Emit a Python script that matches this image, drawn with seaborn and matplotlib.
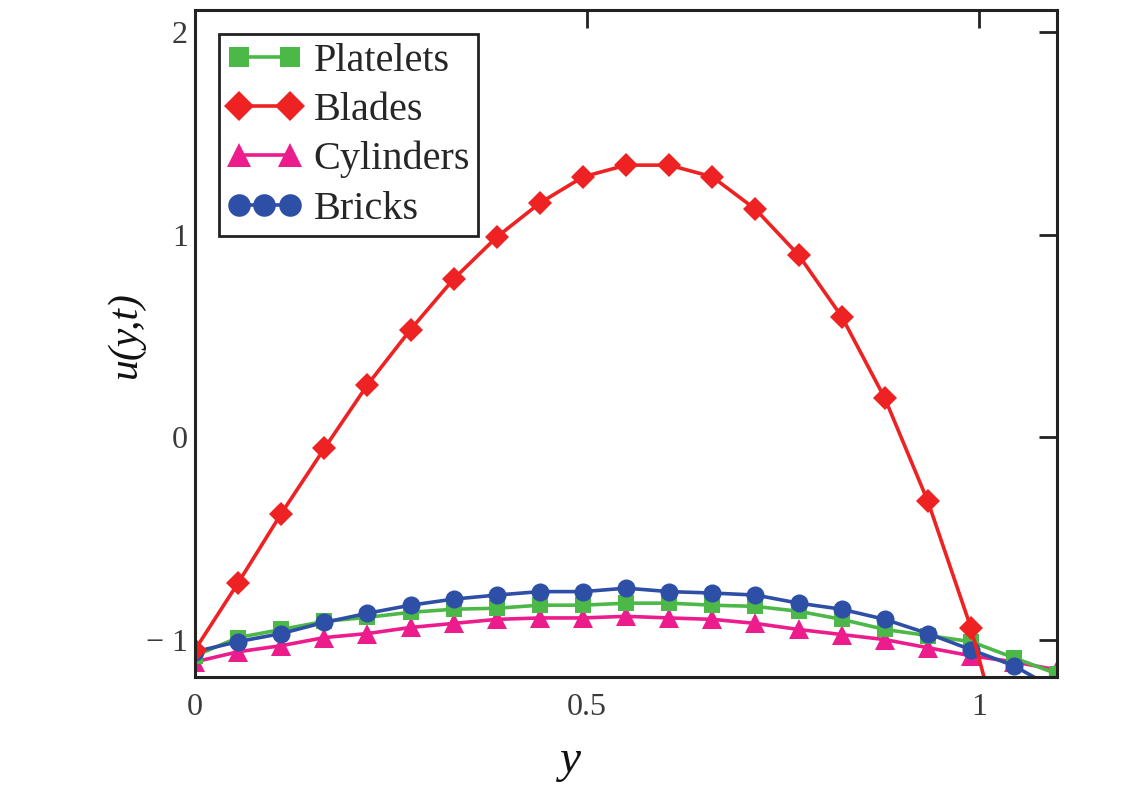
import numpy as np
import pandas as pd
import seaborn as sns
import matplotlib
matplotlib.use("Agg")
import matplotlib.pyplot as plt
from matplotlib.legend_handler import HandlerLine2D

# ---- data ----
y_pos = [round(0.055 * i, 3) for i in range(21)]

platelets = [-1.08, -0.99, -0.95, -0.91, -0.89, -0.865, -0.85, -0.845, -0.83, -0.83,
             -0.82, -0.82, -0.83, -0.836, -0.86, -0.90, -0.95, -0.98, -1.01, -1.09, -1.17]
blades = [-1.05, -0.72, -0.378, -0.056, 0.258, 0.531, 0.781, 0.988, 1.156, 1.285,
          1.343, 1.343, 1.285, 1.125, 0.899, 0.595, 0.192, -0.318, -0.943, -1.75, -2.7]
cylinders = [-1.11, -1.06, -1.03, -0.99, -0.97, -0.94, -0.92, -0.90, -0.893, -0.893,
             -0.885, -0.893, -0.90, -0.92, -0.95, -0.975, -1.00, -1.04, -1.08, -1.11, -1.15]
bricks = [-1.06, -1.01, -0.97, -0.915, -0.87, -0.83, -0.80, -0.78, -0.763, -0.763,
          -0.746, -0.763, -0.77, -0.78, -0.82, -0.85, -0.90, -0.97, -1.05, -1.13, -1.25]

series_names = ["Platelets", "Blades", "Cylinders", "Bricks"]
x_ticks = [0, 0.5, 1]
x_tick_labels = ["0", "0.5", "1"]
y_ticks = [-1, 0, 1, 2]
y_tick_labels = ["\u2212 1", "0", "1", "2"]

sns.set_style("white")
plt.rcParams["font.family"] = ["Liberation Serif", "DejaVu Serif"]

fig = plt.figure(figsize=(11.43, 7.85), dpi=100)
ax = fig.add_axes([0.1706, 0.138, 0.7544, 0.849])

styles = {
    "Platelets": dict(color="#4cb848", marker="s", ms=12),
    "Blades": dict(color="#ee2222", marker="D", ms=12),
    "Cylinders": dict(color="#ec1c8c", marker="^", ms=14),
    "Bricks": dict(color="#2e4fa6", marker="o", ms=13),
}
values = {"Platelets": platelets, "Blades": blades, "Cylinders": cylinders, "Bricks": bricks}

draw_order = ["Cylinders", "Platelets", "Bricks", "Blades"]
lines = {}
for name in draw_order:
    st = styles[name]
    sns.lineplot(x=y_pos, y=values[name], ax=ax, color=st["color"], marker=st["marker"],
                 markersize=st["ms"], markeredgewidth=0, linewidth=2.6, label=name,
                 clip_on=True)
    lines[name] = ax.get_lines()[-1]

ax.set_xlim(0, 1.1)
ax.set_ylim(-1.183, 2.108)
ax.set_xticks(x_ticks)
ax.set_xticklabels(x_tick_labels)
ax.set_yticks(y_ticks)
ax.set_yticklabels(y_tick_labels)

ax.tick_params(axis="both", direction="in", length=13, width=2, color="#222222",
               top=True, right=True, labelsize=23, labelcolor="#3a3a3a")
ax.tick_params(axis="x", pad=12)
ax.tick_params(axis="y", pad=5)

for sp in ax.spines.values():
    sp.set_visible(True)
    sp.set_color("#222222")
    sp.set_linewidth(2.2)

ax.set_xlabel("y", fontsize=34, style="italic", color="#111111")
ax.xaxis.set_label_coords(0.435, -0.095)
ax.set_ylabel("u(y,t)", fontsize=30, style="italic", color="#111111")
ax.yaxis.set_label_coords(-0.058, 0.514)

handles = [lines[n] for n in series_names]
leg = ax.legend(handles, series_names, loc="upper left", fontsize=29, frameon=True,
                fancybox=False, framealpha=1, edgecolor="#222222", numpoints=2,
                markerscale=1.25,
                handlelength=1.85, handletextpad=0.3, labelspacing=0.3,
                borderaxespad=0.6, borderpad=0.2,
                handler_map={lines["Bricks"]: HandlerLine2D(numpoints=3)})
leg.get_frame().set_linewidth(2)

fig.savefig("out.png", dpi=100)
